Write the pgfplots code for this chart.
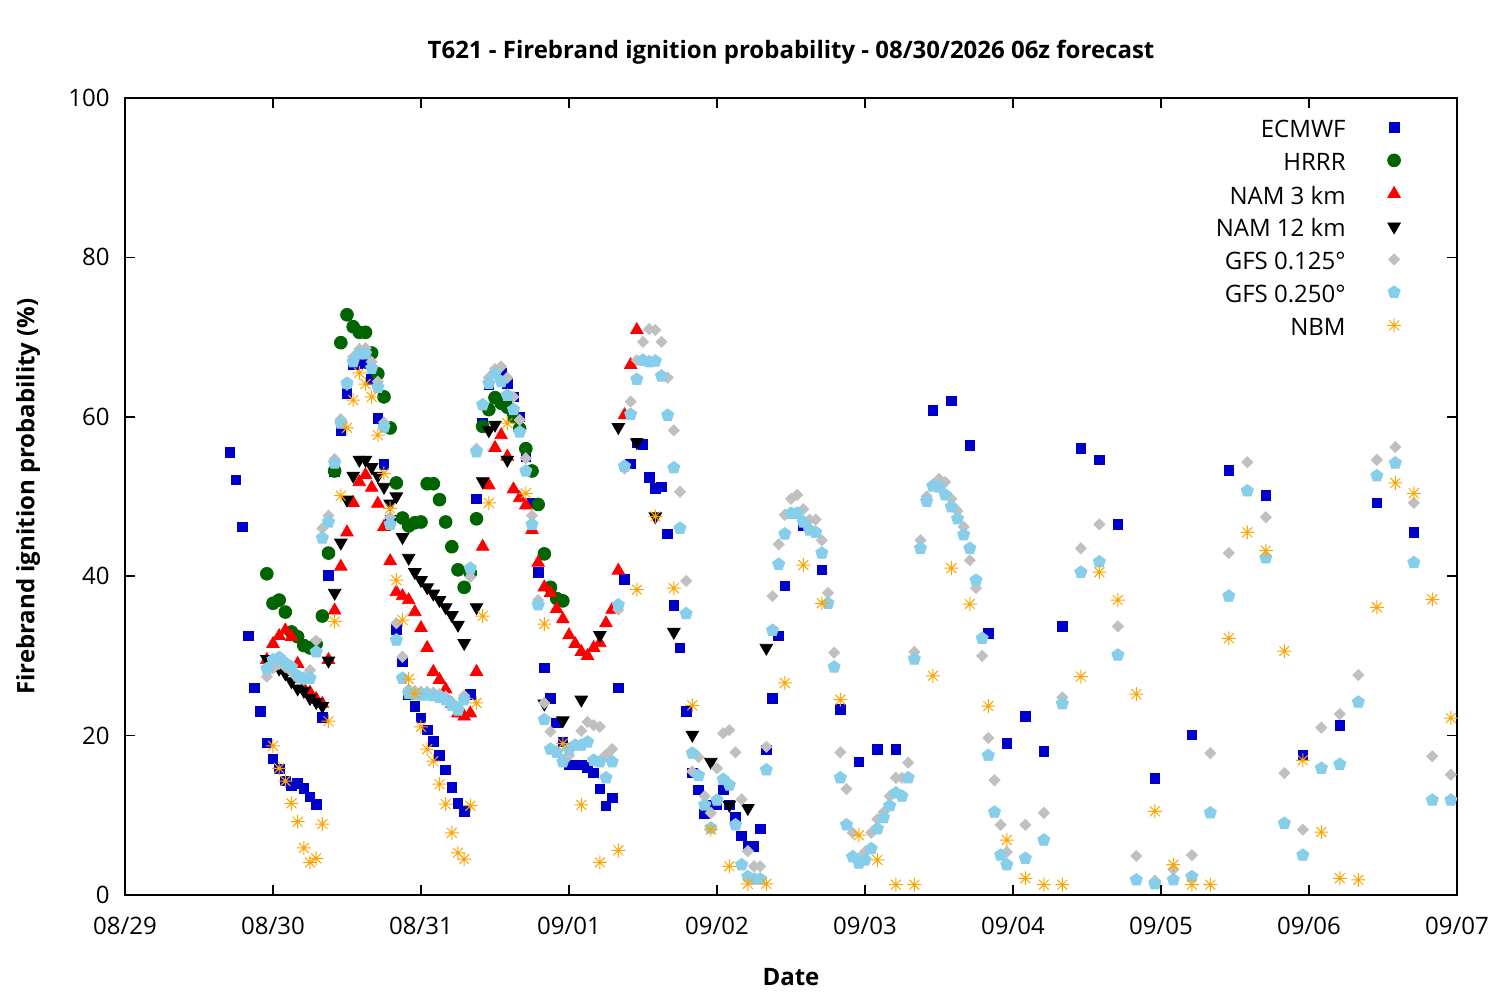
\documentclass[border=0pt]{standalone}
\usepackage{fontspec}
\setmainfont{Open Sans}
\usepackage{pgfplots}
\pgfplotsset{compat=1.18}
\usetikzlibrary{plotmarks}
\definecolor{ecblue}{HTML}{0000CC}
\definecolor{hrrrgreen}{HTML}{006400}
\definecolor{gfsgray}{HTML}{C0C0C0}
\definecolor{gfsblue}{HTML}{87CEEB}
\definecolor{nbmorange}{HTML}{FFA500}
\pgfdeclareplotmark{star8}{%
 \pgfpathmoveto{\pgfqpoint{0pt}{\pgfplotmarksize}}\pgfpathlineto{\pgfqpoint{0pt}{-\pgfplotmarksize}}%
 \pgfpathmoveto{\pgfqpoint{\pgfplotmarksize}{0pt}}\pgfpathlineto{\pgfqpoint{-\pgfplotmarksize}{0pt}}%
 \pgfpathmoveto{\pgfqpoint{0.707\pgfplotmarksize}{0.707\pgfplotmarksize}}\pgfpathlineto{\pgfqpoint{-0.707\pgfplotmarksize}{-0.707\pgfplotmarksize}}%
 \pgfpathmoveto{\pgfqpoint{0.707\pgfplotmarksize}{-0.707\pgfplotmarksize}}\pgfpathlineto{\pgfqpoint{-0.707\pgfplotmarksize}{0.707\pgfplotmarksize}}%
 \pgfusepathqstroke}
\begin{document}
\begin{tikzpicture}
\path[use as bounding box] (-62.5pt,-52.5pt) rectangle (687.5pt,447.5pt);
\begin{axis}[at={(0,0)}, anchor=south west, scale only axis, width=666pt, height=398.5pt,
 xmin=0, xmax=216, ymin=0, ymax=100,
 xtick={0,24,...,216},
 xticklabels={08/29,08/30,08/31,09/01,09/02,09/03,09/04,09/05,09/06,09/07},
 ytick={0,20,...,100},
 tick align=inside, tick pos=both, major tick length=5pt,
 axis line style={line width=0.75pt},
 every tick/.style={black, line width=0.75pt},
 font=\fontsize{12}{14}\selectfont,
 /pgf/number format/assume math mode=true,
 xticklabel style={anchor=base, inner sep=0pt, yshift=-20pt},
 yticklabel style={anchor=east, inner sep=0pt, xshift=-7.5pt},
 title={T621 - Firebrand ignition probability - 08/30/2026 06z forecast},
 title style={at={(axis description cs:0.5,1.0426)}, anchor=center, inner sep=0pt, font=\bfseries\fontsize{12}{14}\selectfont},
 xlabel={Date},
 xlabel style={at={(axis description cs:0.5,-0.1029)}, anchor=center, inner sep=0pt, font=\bfseries\fontsize{12}{14}\selectfont},
 ylabel={Firebrand ignition probability (\%)},
 ylabel style={at={(axis description cs:-0.0728,0.5)}, anchor=center, inner sep=0pt, font=\bfseries\fontsize{12}{14}\selectfont},
 legend style={draw=none, fill=none, at={(1,1)}, anchor=north east, xshift=-20pt, yshift=-9.3pt,
   font=\fontsize{12}{14}\selectfont, row sep=5.4pt, column sep=16pt,
   nodes={inner sep=0pt, text height=8.5pt, text depth=2.5pt}},
 legend cell align=right,
 legend plot pos=right,
 legend image code/.code={\path (0pt,0pt) (16pt,0pt); \draw[#1] plot coordinates {(8pt,2.2pt)};},
]
\addplot[only marks, mark=square*, mark size=2.4pt, color=ecblue] coordinates {
(17,55.5)(18,52.1)(19,46.2)(20,32.5)(21,26.0)(22,23.0)(23,19.1)(24,17.1)(25,15.8)(26,14.3)(27,13.7)(28,14.0)(29,13.4)(30,12.3)(31,11.4)(32,22.3)(33,40.1)(34,53.1)(35,58.3)(36,62.9)(37,66.5)(38,67.0)(39,66.7)(40,64.7)(41,59.8)(42,54.0)(43,47.0)(44,33.3)(45,29.3)(46,25.2)(47,23.7)(48,22.2)(49,20.7)(50,19.3)(51,17.5)(52,15.7)(53,13.5)(54,11.5)(55,10.5)(56,25.2)(57,49.7)(58,59.2)(59,64.0)(60,65.5)(61,65.5)(62,64.2)(63,62.5)(64,60.0)(65,55.0)(66,49.2)(67,40.5)(68,28.5)(69,24.7)(70,21.6)(71,19.2)(72,16.3)(73,16.3)(74,16.3)(75,16.0)(76,15.3)(77,13.3)(78,11.2)(79,12.2)(80,26.0)(81,39.6)(82,54.1)(83,56.7)(84,56.5)(85,52.4)(86,51.0)(87,51.2)(88,45.3)(89,36.3)(90,31.0)(91,23.0)(92,15.3)(93,13.2)(94,10.2)(95,11.3)(96,11.3)(97,13.2)(98,11.3)(99,9.8)(100,7.4)(101,6.1)(102,6.1)(103,8.3)(104,18.2)(105,24.7)(106,32.5)(107,38.8)(110,46.4)(113,40.8)(116,23.3)(119,16.7)(122,18.3)(125,18.3)(131,60.8)(134,62.0)(137,56.4)(140,32.8)(143,19.0)(146,22.4)(149,18.0)(152,33.7)(155,56.0)(158,54.6)(161,46.5)(167,14.6)(173,20.1)(179,53.3)(185,50.1)(191,17.5)(197,21.3)(203,49.2)(209,45.5)
};
\addlegendentry{ECMWF}
\addplot[only marks, mark=*, mark size=3.2pt, color=hrrrgreen] coordinates {
(23,40.3)(24,36.6)(25,37.0)(26,35.5)(27,33.0)(28,32.4)(29,31.3)(30,31.0)(31,31.5)(32,35.0)(33,42.9)(34,53.2)(35,69.3)(36,72.8)(37,71.3)(38,70.6)(39,70.6)(40,68.0)(41,65.4)(42,62.5)(43,58.6)(44,51.7)(45,47.3)(46,46.3)(47,46.7)(48,46.8)(49,51.6)(50,51.6)(51,49.6)(52,46.8)(53,43.7)(54,40.8)(55,38.6)(56,40.4)(57,47.2)(58,58.8)(59,60.9)(60,62.4)(61,61.7)(62,61.2)(63,60.0)(64,58.5)(65,56.0)(66,53.2)(67,49.0)(68,42.8)(69,38.6)(70,37.2)(71,36.9)
};
\addlegendentry{HRRR}
\addplot[only marks, mark=triangle*, mark size=3.6pt, color=red] coordinates {
(23,29.5)(24,31.5)(25,32.5)(26,33.2)(27,32.4)(28,29.0)(29,25.9)(30,25.4)(31,24.6)(32,24.0)(33,29.5)(34,35.7)(35,41.2)(36,45.5)(37,49.2)(38,51.8)(39,52.7)(40,51.1)(41,49.1)(42,46.2)(43,41.9)(44,38.0)(45,37.5)(46,37.0)(47,35.5)(48,33.5)(49,31.0)(50,28.0)(51,27.0)(52,25.8)(53,24.0)(54,22.8)(55,22.4)(56,22.8)(57,28.0)(58,43.7)(59,51.4)(60,56.1)(61,57.7)(62,55.0)(63,50.9)(64,49.8)(65,48.9)(66,45.8)(67,41.7)(68,38.6)(69,37.9)(70,35.9)(71,34.6)(72,32.6)(73,31.5)(74,30.5)(75,30.0)(76,31.0)(77,31.6)(78,34.1)(79,35.8)(80,40.7)(81,60.2)(82,66.5)(83,70.9)
};
\addlegendentry{NAM 3 km}
\addplot[only marks, mark=triangle*, mark options={rotate=180}, mark size=3.6pt, color=black] coordinates {
(23,29.6)(24,29.0)(25,28.4)(26,27.8)(27,26.8)(28,25.9)(29,25.6)(30,24.7)(31,24.2)(32,23.7)(33,29.4)(34,37.9)(35,44.2)(36,49.6)(37,52.6)(38,54.6)(39,54.6)(40,53.7)(41,52.6)(42,51.2)(43,49.1)(44,50.0)(45,44.9)(46,42.3)(47,40.5)(48,39.5)(49,38.6)(50,37.8)(51,37.0)(52,36.1)(53,35.1)(54,33.9)(55,31.6)(57,36.1)(58,51.9)(59,58.3)(60,59.0)(62,54.6)(68,24.0)(71,21.9)(74,24.5)(77,32.6)(80,58.7)(83,56.8)(86,47.5)(89,33.0)(92,20.1)(95,16.7)(98,11.3)(101,10.9)(104,31.0)
};
\addlegendentry{NAM 12 km}
\addplot[only marks, mark=square*, mark options={rotate=45}, mark size=1.95pt, color=gfsgray] coordinates {
(23,27.4)(24,28.4)(25,29.0)(26,28.6)(27,28.0)(28,27.2)(29,27.0)(30,28.2)(31,31.9)(32,46.0)(33,47.6)(34,54.7)(35,59.7)(36,64.0)(37,67.5)(38,68.5)(39,68.6)(40,66.9)(41,64.4)(42,59.3)(43,47.4)(44,34.1)(45,29.9)(46,25.8)(47,25.6)(48,25.5)(49,25.5)(50,25.4)(51,25.2)(52,24.9)(53,24.2)(54,23.6)(55,25.0)(56,39.9)(57,56.0)(58,61.6)(59,64.9)(60,66.0)(61,66.3)(62,64.9)(63,62.5)(64,59.6)(65,54.8)(66,47.6)(67,37.0)(68,24.1)(69,20.5)(70,18.0)(71,17.0)(72,17.5)(73,18.8)(74,20.6)(75,21.7)(76,21.3)(77,21.1)(78,17.6)(79,18.3)(80,35.8)(81,53.5)(82,61.9)(83,67.1)(84,69.4)(85,71.0)(86,70.9)(87,69.4)(88,64.9)(89,58.3)(90,50.6)(91,39.4)(92,15.5)(93,17.3)(94,12.4)(95,10.3)(96,15.9)(97,20.3)(98,20.7)(99,17.9)(100,12.0)(101,5.5)(102,3.6)(103,3.6)(104,18.6)(105,37.5)(106,44.0)(107,47.7)(108,49.7)(109,50.2)(110,48.4)(111,47.1)(112,47.1)(113,44.5)(114,37.9)(115,30.4)(116,17.9)(117,13.3)(118,7.8)(119,4.6)(120,5.4)(121,7.8)(122,9.5)(123,10.4)(124,12.4)(125,14.7)(126,14.7)(127,16.6)(128,30.5)(129,44.5)(130,50.0)(131,51.5)(132,52.2)(133,51.8)(134,49.7)(135,48.2)(136,46.2)(137,42.0)(138,38.5)(139,30.0)(140,19.7)(141,14.4)(142,8.8)(143,5.4)(146,8.8)(149,10.3)(152,24.8)(155,43.5)(158,46.5)(161,33.7)(164,4.9)(167,1.8)(170,3.2)(173,5.0)(176,17.8)(179,42.9)(182,54.3)(185,47.4)(188,15.3)(191,8.2)(194,21.0)(197,22.7)(200,27.6)(203,54.6)(206,56.2)(209,49.2)(212,17.4)(215,15.1)
};
\addlegendentry{GFS 0.125°}
\addplot[only marks, mark=pentagon*, mark size=3.2pt, color=gfsblue] coordinates {
(23,28.4)(24,29.5)(25,29.8)(26,29.1)(27,28.6)(28,27.5)(29,27.2)(30,27.2)(31,30.5)(32,44.8)(33,46.8)(34,54.2)(35,59.2)(36,64.2)(37,66.9)(38,67.9)(39,67.9)(40,66.1)(41,63.7)(42,58.7)(43,46.5)(44,32.0)(45,27.2)(46,25.3)(47,25.2)(48,25.1)(49,25.1)(50,25.0)(51,24.8)(52,24.5)(53,23.8)(54,23.2)(55,24.5)(56,41.0)(57,55.6)(58,61.5)(59,64.2)(60,65.4)(61,64.4)(62,62.7)(63,60.9)(64,58.1)(65,53.2)(66,46.5)(67,36.4)(68,22.0)(69,18.3)(70,17.9)(71,16.7)(72,18.3)(73,18.8)(74,18.8)(75,19.2)(76,16.9)(77,16.7)(78,14.7)(79,16.7)(80,36.4)(81,53.8)(82,60.3)(83,64.7)(84,67.1)(85,66.9)(86,67.0)(87,65.1)(88,60.2)(89,53.6)(90,46.0)(91,35.3)(92,17.8)(93,15.0)(94,11.3)(95,8.4)(96,11.9)(97,14.5)(98,13.8)(99,8.8)(100,3.8)(101,2.3)(102,2.0)(103,2.0)(104,15.7)(105,33.2)(106,41.5)(107,45.3)(108,47.9)(109,47.9)(110,46.8)(111,45.8)(112,45.5)(113,42.9)(114,36.6)(115,28.6)(116,14.7)(117,8.8)(118,4.8)(119,4.0)(120,4.4)(121,5.8)(122,8.3)(123,9.7)(124,11.2)(125,12.8)(126,12.4)(127,14.7)(128,29.6)(129,43.5)(130,49.4)(131,51.3)(132,51.2)(133,50.2)(134,48.7)(135,47.2)(136,45.2)(137,43.5)(138,39.5)(139,32.2)(140,17.5)(141,10.4)(142,5.0)(143,3.8)(146,4.6)(149,6.9)(152,24.0)(155,40.5)(158,41.8)(161,30.1)(164,1.9)(167,1.4)(170,1.9)(173,2.3)(176,10.3)(179,37.5)(182,50.7)(185,42.3)(188,9.0)(191,5.0)(194,15.9)(197,16.4)(200,24.2)(203,52.6)(206,54.2)(209,41.7)(212,11.9)(215,11.9)
};
\addlegendentry{GFS 0.250°}
\addplot[only marks, mark=star8, mark size=3.5pt, line width=0.5pt, color=nbmorange] coordinates {
(24,18.7)(25,15.9)(26,14.3)(27,11.5)(28,9.2)(29,5.9)(30,4.1)(31,4.6)(32,8.9)(33,21.8)(34,34.3)(35,50.1)(36,58.6)(37,62.1)(38,65.5)(39,64.1)(40,62.5)(41,57.7)(42,52.9)(43,48.5)(44,39.5)(45,34.5)(46,27.1)(47,25.3)(48,21.1)(49,18.3)(50,16.8)(51,13.9)(52,11.4)(53,7.8)(54,5.3)(55,4.5)(56,11.2)(57,24.1)(58,35.0)(59,49.2)(62,59.2)(65,50.4)(68,34.0)(71,19.0)(74,11.3)(77,4.1)(80,5.6)(83,38.3)(86,47.5)(89,38.5)(92,23.8)(95,8.2)(98,3.6)(101,1.4)(104,1.4)(107,26.6)(110,41.4)(113,36.6)(116,24.5)(119,7.5)(122,4.4)(125,1.3)(128,1.3)(131,27.5)(134,41.0)(137,36.5)(140,23.7)(143,6.9)(146,2.1)(149,1.3)(152,1.3)(155,27.4)(158,40.5)(161,37.0)(164,25.2)(167,10.5)(170,3.8)(173,1.3)(176,1.3)(179,32.2)(182,45.5)(185,43.2)(188,30.6)(191,16.9)(194,7.9)(197,2.1)(200,1.9)(203,36.1)(206,51.7)(209,50.4)(212,37.1)(215,22.2)
};
\addlegendentry{NBM}
\end{axis}
\end{tikzpicture}
\end{document}
